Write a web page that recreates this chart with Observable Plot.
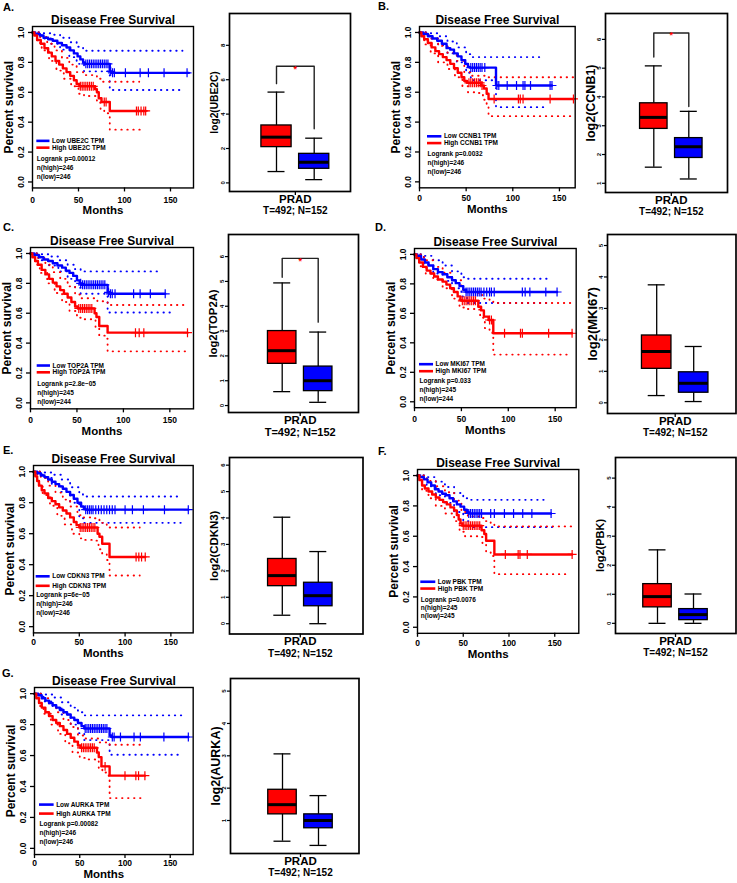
<!DOCTYPE html>
<html><head><meta charset="utf-8">
<script src="https://cdn.jsdelivr.net/npm/d3@7"></script>
<script src="https://cdn.jsdelivr.net/npm/@observablehq/plot@0.6"></script>
<style>
body{margin:0;background:#fff;}
#fig{position:relative;width:737px;height:883px;overflow:hidden;font-family:"Liberation Sans",Arial,sans-serif;background:#fff;}
#fig svg{position:absolute;overflow:visible;}
.lbl{position:absolute;font-weight:bold;font-size:11px;line-height:12px;color:#000;}
</style></head><body><div id="fig"></div>
<script>
// ---------- shared labels ----------
const genes = ["UBE2C","CCNB1","TOP2A","MKI67","CDKN3","PBK","AURKA"];
const panelLetters = ["A.","B.","C.","D.","E.","F.","G."];
const logrankP = ["0.00012","0.0032","2.8e\u221205","0.033","6e\u221205","0.0076","0.00082"];
const nHigh = [246,246,245,245,246,245,246];
const nLow = [246,246,244,244,246,245,246];
const monthTicks = [0,50,100,150];
const survTicks = [0,0.2,0.4,0.6,0.8,1.0];
const sampleText = "T=492; N=152";
const cancerType = "PRAD";

// ---------- KM curves [months, survival] ----------
const ube2c_low = [[0,1],[3,0.99],[8,0.98],[12,0.965],[17,0.955],[22,0.945],[27,0.93],[32,0.915],[37,0.9],[41,0.88],[45,0.86],[49,0.84],[52,0.82],[55,0.8],[57,0.79],[83,0.79],[84,0.74],[86,0.73],[170,0.73]];
const ube2c_high = [[0,1],[2,0.98],[5,0.95],[9,0.925],[13,0.895],[17,0.865],[21,0.84],[25,0.81],[29,0.785],[33,0.76],[37,0.735],[41,0.71],[45,0.68],[48,0.655],[51,0.64],[66,0.64],[68,0.62],[70,0.6],[72,0.56],[75,0.535],[82,0.535],[84,0.475],[123,0.475]];
const ube2c_low_up = [[0,1],[10,0.995],[20,0.985],[30,0.965],[40,0.935],[48,0.905],[55,0.878],[163,0.878]];
const ube2c_low_lo = [[0,1],[10,0.96],[20,0.925],[30,0.885],[40,0.835],[48,0.79],[56,0.74],[83,0.74],[84,0.615],[163,0.615]];
const ube2c_high_up = [[0,1],[8,0.97],[16,0.925],[24,0.88],[32,0.83],[40,0.785],[48,0.735],[55,0.715],[66,0.715],[70,0.69],[76,0.67],[116,0.67]];
const ube2c_high_lo = [[0,1],[5,0.93],[10,0.88],[18,0.81],[26,0.745],[34,0.69],[42,0.64],[50,0.59],[56,0.575],[66,0.575],[70,0.53],[74,0.48],[78,0.46],[83,0.45],[84,0.35],[121,0.345]];
const ube2c_cen_low = [58,60,62,64,66,68,70,72,74,76,78,80,82,85,87,89,101,117,126,143,168];
const ube2c_cen_high = [52,54,56,58,60,62,64,66,78,80,113,115,118,121,123];

const ccnb1_low = [[0,1],[4,0.99],[9,0.975],[14,0.96],[19,0.945],[24,0.925],[29,0.895],[33,0.885],[37,0.86],[41,0.84],[45,0.815],[49,0.79],[52,0.77],[54,0.765],[81,0.765],[82,0.645],[142,0.645]];
const ccnb1_high = [[0,1],[2,0.975],[5,0.955],[9,0.93],[13,0.9],[17,0.875],[21,0.855],[25,0.835],[29,0.815],[33,0.79],[37,0.76],[41,0.73],[45,0.7],[48,0.675],[51,0.663],[63,0.663],[66,0.645],[69,0.625],[72,0.59],[74,0.555],[165,0.555]];
const ccnb1_low_up = [[0,1],[10,0.995],[20,0.975],[30,0.94],[40,0.9],[50,0.855],[55,0.835],[134,0.835]];
const ccnb1_low_lo = [[0,1],[10,0.96],[20,0.915],[30,0.86],[40,0.8],[50,0.73],[55,0.68],[81,0.68],[82,0.5],[137,0.5]];
const ccnb1_high_up = [[0,1],[10,0.96],[20,0.91],[30,0.865],[40,0.81],[48,0.735],[55,0.71],[66,0.71],[72,0.7],[165,0.7]];
const ccnb1_high_lo = [[0,1],[5,0.92],[12,0.86],[20,0.8],[30,0.755],[38,0.7],[46,0.64],[52,0.6],[63,0.595],[68,0.55],[72,0.5],[74,0.44],[165,0.44]];
const ccnb1_cen_low = [55,57,59,61,63,65,67,70,83,85,94,104,111,113,119,140,142];
const ccnb1_cen_high = [53,55,57,59,61,63,65,67,80,106,108,111,140,165];

const top2a_low = [[0,1],[4,0.99],[9,0.975],[14,0.96],[19,0.95],[24,0.935],[29,0.92],[34,0.905],[38,0.885],[42,0.87],[46,0.85],[50,0.82],[53,0.8],[55,0.79],[82,0.79],[83,0.74],[85,0.73],[145,0.73]];
const top2a_high = [[0,1],[2,0.975],[5,0.95],[8,0.925],[12,0.89],[16,0.86],[20,0.83],[24,0.805],[28,0.78],[32,0.755],[36,0.73],[40,0.705],[44,0.675],[48,0.645],[51,0.632],[66,0.632],[69,0.6],[71,0.575],[74,0.515],[82,0.515],[83,0.47],[169,0.47]];
const top2a_low_up = [[0,1],[10,0.995],[20,0.98],[30,0.955],[40,0.925],[48,0.895],[54,0.88],[142,0.88]];
const top2a_low_lo = [[0,1],[10,0.955],[20,0.92],[30,0.88],[40,0.83],[48,0.77],[54,0.73],[82,0.73],[83,0.605],[150,0.605]];
const top2a_high_up = [[0,1],[8,0.97],[16,0.925],[24,0.875],[32,0.83],[40,0.78],[48,0.725],[54,0.7],[66,0.7],[72,0.68],[83,0.655],[169,0.655]];
const top2a_high_lo = [[0,1],[5,0.925],[10,0.87],[18,0.8],[26,0.735],[34,0.675],[42,0.615],[50,0.57],[56,0.56],[66,0.56],[70,0.5],[74,0.45],[82,0.43],[83,0.345],[169,0.345]];
const top2a_cen_low = [54,56,58,60,62,64,66,68,70,72,74,76,78,80,84,86,88,91,111,118,129,145];
const top2a_cen_high = [52,54,56,58,60,62,64,66,113,117,122,169];

const mki67_low = [[0,1],[3,0.99],[7,0.965],[11,0.945],[15,0.925],[20,0.9],[25,0.88],[30,0.865],[35,0.845],[40,0.825],[44,0.805],[48,0.785],[52,0.76],[55,0.745],[152,0.745]];
const mki67_high = [[0,1],[2,0.975],[5,0.945],[9,0.915],[13,0.89],[17,0.87],[21,0.85],[25,0.83],[30,0.815],[34,0.795],[38,0.77],[42,0.745],[46,0.715],[49,0.69],[51,0.685],[65,0.685],[68,0.645],[71,0.62],[74,0.578],[79,0.555],[82,0.555],[84,0.465],[168,0.465]];
const mki67_low_up = [[0,1],[10,0.99],[20,0.96],[30,0.925],[40,0.885],[50,0.845],[55,0.835],[141,0.835]];
const mki67_low_lo = [[0,1],[10,0.93],[20,0.87],[30,0.82],[40,0.77],[50,0.715],[56,0.67],[141,0.67]];
const mki67_high_up = [[0,1],[10,0.96],[20,0.915],[30,0.875],[40,0.825],[50,0.76],[56,0.745],[66,0.74],[72,0.7],[80,0.68],[84,0.67],[168,0.67]];
const mki67_high_lo = [[0,1],[5,0.92],[12,0.87],[20,0.83],[30,0.77],[40,0.7],[48,0.64],[56,0.63],[66,0.625],[70,0.57],[75,0.5],[80,0.47],[83,0.45],[84,0.32],[168,0.32]];
const mki67_cen_low = [55,57,59,61,63,65,67,69,71,74,77,80,82,85,115,118,123,140,152];
const mki67_cen_high = [51,53,55,57,59,61,63,65,80,82,96,113,115,143,168];

const cdkn3_low = [[0,1],[4,0.99],[8,0.975],[12,0.965],[16,0.95],[20,0.935],[24,0.92],[28,0.905],[32,0.89],[36,0.87],[40,0.85],[44,0.825],[48,0.8],[52,0.775],[55,0.76],[57,0.755],[169,0.755]];
const cdkn3_high = [[0,1],[2,0.97],[4,0.94],[6,0.91],[9,0.88],[12,0.86],[16,0.83],[20,0.81],[24,0.79],[28,0.77],[32,0.75],[36,0.73],[40,0.705],[44,0.675],[47,0.655],[50,0.64],[67,0.64],[70,0.6],[72,0.58],[75,0.535],[80,0.535],[83,0.45],[122,0.45]];
const cdkn3_low_up = [[0,1],[10,0.995],[20,0.98],[30,0.95],[40,0.9],[50,0.855],[54,0.84],[162,0.84]];
const cdkn3_low_lo = [[0,1],[10,0.96],[20,0.92],[30,0.87],[40,0.8],[50,0.7],[55,0.67],[162,0.67]];
const cdkn3_high_up = [[0,1],[8,0.96],[16,0.91],[24,0.865],[32,0.82],[40,0.775],[48,0.72],[54,0.705],[67,0.7],[72,0.67],[80,0.64],[116,0.64]];
const cdkn3_high_lo = [[0,1],[4,0.92],[10,0.85],[18,0.78],[26,0.715],[34,0.66],[42,0.6],[50,0.57],[56,0.56],[67,0.555],[71,0.5],[75,0.47],[80,0.43],[83,0.33],[116,0.33]];
const cdkn3_cen_low = [57,59,61,63,65,68,71,74,77,80,83,86,89,100,108,120,143,169];
const cdkn3_cen_high = [51,53,55,57,59,61,63,65,67,112,115,118,122];

const pbk_low = [[0,1],[3,0.99],[7,0.975],[11,0.955],[15,0.935],[19,0.91],[23,0.895],[27,0.88],[31,0.87],[35,0.85],[39,0.83],[43,0.81],[47,0.795],[51,0.775],[54,0.76],[56,0.75],[146,0.75]];
const pbk_high = [[0,1],[2,0.97],[5,0.935],[8,0.915],[12,0.895],[16,0.875],[20,0.855],[24,0.84],[28,0.825],[32,0.81],[36,0.79],[40,0.77],[43,0.74],[45,0.71],[47,0.685],[49,0.67],[67,0.67],[70,0.64],[73,0.615],[75,0.57],[82,0.57],[84,0.48],[169,0.48]];
const pbk_low_up = [[0,1],[10,0.99],[20,0.96],[30,0.925],[40,0.885],[50,0.85],[55,0.84],[138,0.84]];
const pbk_low_lo = [[0,1],[10,0.93],[20,0.87],[30,0.82],[40,0.76],[50,0.7],[56,0.66],[147,0.66]];
const pbk_high_up = [[0,1],[10,0.965],[20,0.93],[30,0.89],[40,0.835],[48,0.76],[55,0.73],[67,0.72],[73,0.7],[80,0.68],[84,0.665],[169,0.665]];
const pbk_high_lo = [[0,1],[5,0.9],[12,0.85],[20,0.8],[30,0.75],[40,0.7],[46,0.63],[52,0.6],[67,0.595],[71,0.55],[75,0.5],[80,0.47],[84,0.35],[164,0.35]];
const pbk_cen_low = [56,58,60,62,64,66,68,70,80,84,95,105,115,125,146];
const pbk_cen_high = [50,52,54,56,58,60,62,64,66,68,96,110,112,120,169];

const aurka_low = [[0,1],[4,0.99],[8,0.97],[12,0.955],[16,0.94],[20,0.925],[24,0.91],[28,0.895],[32,0.88],[36,0.865],[40,0.845],[44,0.83],[48,0.81],[52,0.79],[55,0.775],[82,0.775],[83,0.73],[85,0.72],[170,0.72]];
const aurka_high = [[0,1],[2,0.97],[5,0.94],[8,0.91],[12,0.88],[16,0.855],[20,0.83],[24,0.81],[28,0.79],[32,0.765],[36,0.74],[40,0.715],[44,0.69],[48,0.665],[51,0.65],[67,0.65],[69,0.62],[71,0.59],[74,0.53],[81,0.53],[83,0.47],[122,0.47]];
const aurka_low_up = [[0,1],[10,0.995],[20,0.975],[30,0.945],[40,0.91],[48,0.88],[55,0.86],[164,0.86]];
const aurka_low_lo = [[0,1],[10,0.95],[20,0.91],[30,0.865],[40,0.8],[48,0.745],[55,0.7],[82,0.7],[83,0.605],[164,0.605]];
const aurka_high_up = [[0,1],[8,0.97],[16,0.925],[24,0.88],[32,0.83],[40,0.785],[48,0.73],[54,0.71],[67,0.71],[72,0.685],[83,0.67],[119,0.67]];
const aurka_high_lo = [[0,1],[5,0.92],[10,0.87],[18,0.8],[26,0.74],[34,0.68],[42,0.62],[50,0.585],[56,0.575],[67,0.57],[71,0.52],[75,0.49],[82,0.45],[83,0.325],[119,0.325]];
const aurka_cen_low = [56,58,60,62,64,66,68,70,72,74,76,78,80,86,88,95,110,117,143,170];
const aurka_cen_high = [52,54,56,58,60,62,64,66,78,100,112,115,122];

// ---------- box plot stats [min, q1, median, q3, max] ----------
const ube2c_tumor = [0.66,2.08,2.66,3.34,5.28];
const ube2c_normal = [0.19,0.82,1.2,1.69,2.6];
const ccnb1_tumor = [1.56,2.89,3.29,3.78,5.08];
const ccnb1_normal = [1.15,1.88,2.27,2.57,3.5];
const top2a_tumor = [0.56,1.68,2.21,3.0,4.94];
const top2a_normal = [0.13,0.58,1.0,1.57,2.96];
const mki67_tumor = [0.23,1.08,1.63,2.14,3.75];
const mki67_normal = [0.04,0.32,0.62,0.97,1.79];
const cdkn3_tumor = [0.32,1.42,1.82,2.45,4.03];
const cdkn3_normal = [0.0,0.66,1.06,1.55,2.73];
const pbk_tumor = [0.0,0.55,0.92,1.35,2.53];
const pbk_normal = [0.0,0.11,0.3,0.49,1.01];
const aurka_tumor = [0.36,1.19,1.49,1.95,3.06];
const aurka_normal = [0.23,0.76,1.0,1.19,1.77];
// significance brackets [top, left end, right end]
const ube2c_bracket = [6.78,5.77,3.15];
const ccnb1_bracket = [6.22,5.39,3.67];
const top2a_bracket = [5.93,5.17,3.36];
// box y tick labels
const ube2c_ticks = [0,2,4,6,8];
const ccnb1_ticks = [1,2,3,4,5,6];
const top2a_ticks = [0,1,2,3,4,5,6];
const mki67_ticks = [0,1,2,3,4,5];
const cdkn3_ticks = [0,1,2,3,4,5,6];
const pbk_ticks = [0,1,2,3,4,5];
const aurka_ticks = [1,2,3,4,5];

// ---------- assemble ----------
const kmData = [
  [ube2c_low,ube2c_high,ube2c_low_up,ube2c_low_lo,ube2c_high_up,ube2c_high_lo,ube2c_cen_low,ube2c_cen_high],
  [ccnb1_low,ccnb1_high,ccnb1_low_up,ccnb1_low_lo,ccnb1_high_up,ccnb1_high_lo,ccnb1_cen_low,ccnb1_cen_high],
  [top2a_low,top2a_high,top2a_low_up,top2a_low_lo,top2a_high_up,top2a_high_lo,top2a_cen_low,top2a_cen_high],
  [mki67_low,mki67_high,mki67_low_up,mki67_low_lo,mki67_high_up,mki67_high_lo,mki67_cen_low,mki67_cen_high],
  [cdkn3_low,cdkn3_high,cdkn3_low_up,cdkn3_low_lo,cdkn3_high_up,cdkn3_high_lo,cdkn3_cen_low,cdkn3_cen_high],
  [pbk_low,pbk_high,pbk_low_up,pbk_low_lo,pbk_high_up,pbk_high_lo,pbk_cen_low,pbk_cen_high],
  [aurka_low,aurka_high,aurka_low_up,aurka_low_lo,aurka_high_up,aurka_high_lo,aurka_cen_low,aurka_cen_high]
];
const boxData = [
  [ube2c_tumor,ube2c_normal,ube2c_bracket,ube2c_ticks],
  [ccnb1_tumor,ccnb1_normal,ccnb1_bracket,ccnb1_ticks],
  [top2a_tumor,top2a_normal,top2a_bracket,top2a_ticks],
  [mki67_tumor,mki67_normal,null,mki67_ticks],
  [cdkn3_tumor,cdkn3_normal,null,cdkn3_ticks],
  [pbk_tumor,pbk_normal,null,pbk_ticks],
  [aurka_tumor,aurka_normal,null,aurka_ticks]
];

// ---------- layout (page pixels) ----------
const kmLayout = [
  {L:32,R:193,Y1:32,Y0:181.5,ppm:0.92,legY:0.275,legX:[4.7,19],gap:6.8,off:[18,27,36],let:[3,7],xl:[12.5,22.5]},
  {L:419.3,R:575,Y1:32.3,Y0:181.7,ppm:0.933,legY:0.305,legX:[8.6,24],gap:6.8,off:[18,27,35.5],let:[378,6],xl:[10,21]},
  {L:30,R:193,Y1:253.3,Y0:402.7,ppm:0.929,legY:0.25,legX:[7.2,21.5],gap:6.8,off:[18,27,36],let:[3,227],xl:[11.5,22]},
  {L:414.3,R:576,Y1:254.3,Y0:401.7,ppm:0.938,legY:0.255,legX:[5.3,20.3],gap:7,off:[17,26,35],let:[375,227],xl:[12,23]},
  {L:33.3,R:193,Y1:471,Y0:626,ppm:0.916,legY:0.325,legX:[2.9,18.2],gap:9.5,off:[18.5,27.5,37],let:[3,450],xl:[9.5,20.5]},
  {L:416.7,R:578,Y1:475,Y0:626.7,ppm:0.915,legY:0.3,legX:[3.6,20],gap:6.8,off:[18,26,34],let:[378,451],xl:[9.5,20.5]},
  {L:34.3,R:193,Y1:693.3,Y0:848,ppm:0.905,legY:0.283,legX:[5.5,21.7],gap:9,off:[19,28,37],let:[2,673],xl:[8.5,19.5]}
];
const boxLayout = [
  {L:229,R:350,T:13,B:191,cR:276,cB:313.7,yDom:[-0.5,9.85],ls:10.2,ts:10},
  {L:605,R:727,T:13,B:192,cR:653.3,cB:688.3,yDom:[0.68,6.9],ls:12.5,ts:10},
  {L:228,R:358,T:234,B:412,cR:281.7,cB:317.7,yDom:[-0.28,6.89],ls:11.3,ts:11},
  {L:606.5,R:735,T:234,B:413,cR:655.7,cB:692.7,yDom:[-0.34,5.35],ls:13,ts:10},
  {L:228.5,R:362,T:456.5,B:633,cR:281.3,cB:317.3,yDom:[-0.39,6.29],ls:11.4,ts:10},
  {L:615,R:735.5,T:457,B:633,cR:657,cB:693,yDom:[-0.35,5.71],ls:11,ts:10},
  {L:230,R:358.5,T:678,B:853,cR:282,cB:318,yDom:[-0.02,5.39],ls:12.5,ts:10}
];

const RED = "#ff0000", BLUE = "#0000ff";
const FONT = "'Liberation Sans', Arial, sans-serif";
const fig = document.getElementById("fig");

function stepAt(curve, t) {
  let s = curve[0][1];
  for (const [ti, si] of curve) { if (ti <= t) s = si; else break; }
  return s;
}
function place(svg, left, top) {
  svg.style.position = "absolute";
  svg.style.left = left + "px";
  svg.style.top = top + "px";
  fig.appendChild(svg);
}
const X = d => d[0], Y = d => d[1];
const C = {textAnchor: "middle", lineAnchor: "middle"};

function kmPanel(i) {
  const lay = kmLayout[i];
  const [low, high, lowUp, lowLo, highUp, highLo, cenLow, cenHigh] = kmData[i];
  const span = lay.Y0 - lay.Y1;
  const T = lay.Y1 - 0.04 * span, B = lay.Y0 + 0.04 * span;
  const mL = 34, mR = 6, mT = 30, mB = 36;
  const xmax = (lay.R - lay.L) / lay.ppm;
  const dots = {curve: "step-after", strokeWidth: 1.9, strokeDasharray: "0.4,5.6", strokeLinecap: "round"};
  const g = genes[i];
  const txt = {fontWeight: "bold", fill: "black"};
  const leg = {textAnchor: "start", lineAnchor: "middle", ...txt};
  const svg = Plot.plot({
    width: (lay.R - lay.L) + mL + mR,
    height: (B - T) + mT + mB,
    marginLeft: mL, marginRight: mR, marginTop: mT, marginBottom: mB,
    x: {domain: [0, xmax]},
    y: {domain: [-0.04, 1.04]},
    style: {fontFamily: FONT, background: "transparent", overflow: "visible", color: "black"},
    marks: [
      Plot.line(lowUp, {x: X, y: Y, stroke: BLUE, ...dots}),
      Plot.line(lowLo, {x: X, y: Y, stroke: BLUE, ...dots}),
      Plot.line(highUp, {x: X, y: Y, stroke: RED, ...dots}),
      Plot.line(highLo, {x: X, y: Y, stroke: RED, ...dots}),
      Plot.line(low, {x: X, y: Y, curve: "step-after", stroke: BLUE, strokeWidth: 2.4}),
      Plot.line(high, {x: X, y: Y, curve: "step-after", stroke: RED, strokeWidth: 2.4}),
      Plot.dot(cenLow, {x: d => d, y: d => stepAt(low, d), symbol: "plus", r: 3, stroke: BLUE, strokeWidth: 1.2}),
      Plot.dot(cenHigh, {x: d => d, y: d => stepAt(high, d), symbol: "plus", r: 3, stroke: RED, strokeWidth: 1.2}),
      Plot.frame({stroke: "black", strokeWidth: 1.4}),
      Plot.axisY({ticks: survTicks, tickSize: 4, tickFormat: () => "", label: null, strokeWidth: 1.3}),
      Plot.axisX({ticks: monthTicks, tickSize: 4, tickFormat: () => "", label: null, strokeWidth: 1.3}),
      Plot.text(survTicks, {y: d => d, text: d => d.toFixed(1), frameAnchor: "left", dx: -11, rotate: -90, fontSize: 8.5, ...C, ...txt}),
      Plot.text(monthTicks, {x: d => d, text: d => String(d), frameAnchor: "bottom", dy: lay.xl[0], fontSize: 8.5, ...C, ...txt}),
      Plot.text(["Disease Free Survival"], {text: d => d, frameAnchor: "top", dy: -6.5, fontSize: 12, ...C, ...txt}),
      Plot.text(["Percent survival"], {text: d => d, frameAnchor: "left", dx: -23, rotate: -90, fontSize: 12, ...C, ...txt}),
      Plot.text(["Months"], {text: d => d, frameAnchor: "bottom", dx: -10, dy: lay.xl[1], fontSize: 11.5, ...C, ...txt}),
      // legend
      Plot.ruleY([lay.legY], {x1: lay.legX[0], x2: lay.legX[1], stroke: BLUE, strokeWidth: 2.6}),
      Plot.ruleY([lay.legY], {x1: lay.legX[0], x2: lay.legX[1], stroke: RED, strokeWidth: 2.6, dy: lay.gap}),
      Plot.text([`Low ${g} TPM`], {text: d => d, x: lay.legX[1], y: lay.legY, dx: 2, fontSize: 6.5, ...leg}),
      Plot.text([`High ${g} TPM`], {text: d => d, x: lay.legX[1], y: lay.legY, dx: 2, dy: lay.gap, fontSize: 6.5, ...leg}),
      Plot.text([`Logrank p=${logrankP[i]}`], {text: d => d, x: lay.legX[0], y: lay.legY, dy: lay.off[0], fontSize: 6.5, ...leg}),
      Plot.text([`n(high)=${nHigh[i]}`], {text: d => d, x: lay.legX[0], y: lay.legY, dy: lay.off[1], fontSize: 6.5, ...leg}),
      Plot.text([`n(low)=${nLow[i]}`], {text: d => d, x: lay.legX[0], y: lay.legY, dy: lay.off[2], fontSize: 6.5, ...leg})
    ]
  });
  place(svg, lay.L - mL, T - mT);
  const lt = document.createElement("div");
  lt.className = "lbl";
  lt.textContent = panelLetters[i];
  lt.style.left = lay.let[0] + "px";
  lt.style.top = (lay.let[1] - 6) + "px";
  fig.appendChild(lt);
}

function boxPanel(i) {
  const lay = boxLayout[i];
  const [tumor, normal, bracket, ticks] = boxData[i];
  const unit = lay.cB - lay.cR;
  const xDom = [1 - (lay.cR - lay.L) / unit, 2 + (lay.R - lay.cB) / unit];
  const hw = (unit - 7.5) / 2 / unit, cw = 8.5 / unit;
  const mL = 30, mR = 4, mT = 4, mB = 30;
  const txt = {fontWeight: "bold", fill: "black"};
  const groups = [{pos: 1, s: tumor, fill: RED}, {pos: 2, s: normal, fill: BLUE}];
  const boxMarks = groups.flatMap(b => [
    Plot.ruleX([b], {x: d => d.pos, y1: d => d.s[0], y2: d => d.s[1], stroke: "black", strokeWidth: 1.3}),
    Plot.ruleX([b], {x: d => d.pos, y1: d => d.s[3], y2: d => d.s[4], stroke: "black", strokeWidth: 1.3}),
    Plot.ruleY([b], {y: d => d.s[0], x1: d => d.pos - cw, x2: d => d.pos + cw, stroke: "black", strokeWidth: 1.3}),
    Plot.ruleY([b], {y: d => d.s[4], x1: d => d.pos - cw, x2: d => d.pos + cw, stroke: "black", strokeWidth: 1.3}),
    Plot.rect([b], {x1: d => d.pos - hw, x2: d => d.pos + hw, y1: d => d.s[1], y2: d => d.s[3], fill: b.fill, stroke: "black", strokeWidth: 1.3}),
    Plot.ruleY([b], {y: d => d.s[2], x1: d => d.pos - hw, x2: d => d.pos + hw, stroke: "black", strokeWidth: 3})
  ]);
  const brMarks = bracket ? [
    Plot.line([[1, bracket[1]], [1, bracket[0]], [2, bracket[0]], [2, bracket[2]]], {x: X, y: Y, stroke: "#222", strokeWidth: 1.4}),
    Plot.text(["*"], {text: d => d, x: 1.5, y: bracket[0], dy: 2.5, fill: RED, fontSize: 9, fontWeight: "bold", ...C})
  ] : [];
  const svg = Plot.plot({
    width: (lay.R - lay.L) + mL + mR,
    height: (lay.B - lay.T) + mT + mB,
    marginLeft: mL, marginRight: mR, marginTop: mT, marginBottom: mB,
    x: {domain: xDom},
    y: {domain: lay.yDom},
    style: {fontFamily: FONT, background: "transparent", overflow: "visible", color: "black"},
    marks: [
      ...boxMarks,
      ...brMarks,
      Plot.frame({stroke: "black", strokeWidth: 1.7}),
      Plot.axisY({ticks: ticks, tickSize: 3, tickFormat: () => "", label: null, strokeWidth: 1.2}),
      Plot.axisX({ticks: [1.5], tickSize: 4, tickFormat: () => "", label: null, strokeWidth: 1.3}),
      Plot.text(ticks, {y: d => d, text: d => String(d), frameAnchor: "left", dx: -6.5, rotate: -90, fontSize: 6, ...C, ...txt}),
      Plot.text([`log2(${genes[i]})`], {text: d => d, frameAnchor: "left", dx: -15, rotate: -90, fontSize: lay.ls, ...C, ...txt}),
      Plot.text([cancerType], {text: d => d, x: 1.5, frameAnchor: "bottom", dy: 7.5, fontSize: 11.5, ...C, ...txt}),
      Plot.text([sampleText], {text: d => d, x: 1.5, frameAnchor: "bottom", dy: 19.5, fontSize: lay.ts, ...C, ...txt})
    ]
  });
  place(svg, lay.L - mL, lay.T - mT);
}

for (let i = 0; i < 7; i++) { kmPanel(i); boxPanel(i); }
</script></body></html>
